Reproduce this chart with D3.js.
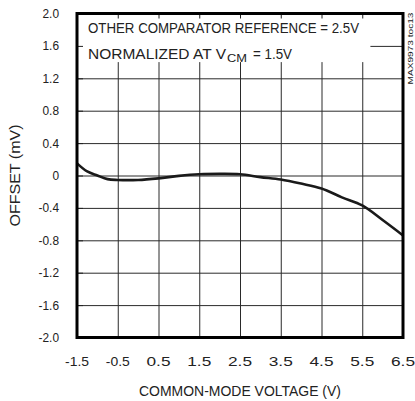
<!DOCTYPE html>
<html>
<head>
<meta charset="utf-8">
<script src="https://cdn.jsdelivr.net/npm/d3@7"></script>
<style>
  body { margin: 0; background: #fff; }
  svg text { font-family: "Liberation Sans", Arial, sans-serif; fill: #222; }
</style>
</head>
<body>
<div id="chart-area"></div>
<script>
// offset vs common-mode voltage
var voltage = [-1.5, -1.25, -1.0, -0.75, -0.5, 0, 0.5, 1.0, 1.5, 2.0, 2.5, 3.0, 3.5, 4.0, 4.5, 5.0, 5.5, 6.0, 6.5];
var offset  = [0.15, 0.05, 0.0, -0.045, -0.055, -0.055, -0.035, -0.005, 0.015, 0.02, 0.015, -0.02, -0.05, -0.10, -0.16, -0.27, -0.37, -0.55, -0.74];
var xTicks = [-1.5, -0.5, 0.5, 1.5, 2.5, 3.5, 4.5, 5.5, 6.5];
var yTicks = [2.0, 1.6, 1.2, 0.8, 0.4, 0, -0.4, -0.8, -1.2, -1.6, -2.0];

var margin = {left: 77, right: 12, top: 13.5, bottom: 63.5};
var width  = 415 - margin.left - margin.right;
var height = 401 - margin.top - margin.bottom;

var svg = d3.select("#chart-area")
    .append("svg")
        .attr("width", 415)
        .attr("height", 401);

var g = svg.append("g")
    .attr("transform", "translate(" + margin.left + ", " + margin.top + ")");

var x = d3.scaleLinear().domain([-1.5, 6.5]).range([0, width]);
var y = d3.scaleLinear().domain([-2, 2]).range([height, 0]);

// grid
g.append("g")
    .call(d3.axisBottom(x).tickValues(xTicks).tickSize(height).tickFormat(""))
    .call(function(s){ s.select(".domain").remove(); })
    .selectAll("line").attr("stroke", "#2a2a2a").attr("stroke-width", 1);

g.append("g")
    .call(d3.axisLeft(y).tickValues(yTicks).tickSize(-width).tickFormat(""))
    .call(function(s){ s.select(".domain").remove(); })
    .selectAll("line").attr("stroke", "#2a2a2a").attr("stroke-width", 1);

// white box behind the notes
g.append("rect")
    .attr("x", 0)
    .attr("y", 0)
    .attr("width", x(5.7))
    .attr("height", y(1.4))
    .attr("fill", "#fff");

// small inner ticks
g.append("g")
    .call(d3.axisTop(x).tickValues(xTicks).tickSize(-5).tickFormat(""))
    .call(function(s){ s.select(".domain").remove(); })
    .selectAll("line").attr("stroke", "#222");
g.append("g")
    .call(d3.axisLeft(y).tickValues(yTicks).tickSize(-6).tickFormat(""))
    .call(function(s){ s.select(".domain").remove(); })
    .selectAll("line").attr("stroke", "#222");

// notes (condensed look via textLength)
g.append("text")
    .attr("x", 11)
    .attr("y", 19)
    .attr("font-size", "15px")
    .attr("textLength", 271)
    .attr("lengthAdjust", "spacingAndGlyphs")
    .text("OTHER COMPARATOR REFERENCE = 2.5V");

var note2 = g.append("g").attr("font-size", "15px");
note2.append("text")
    .attr("x", 11)
    .attr("y", 45)
    .attr("textLength", 138)
    .attr("lengthAdjust", "spacingAndGlyphs")
    .text("NORMALIZED AT V");
note2.append("text")
    .attr("x", 150)
    .attr("y", 48.5)
    .attr("font-size", "11.5px")
    .attr("textLength", 20)
    .attr("lengthAdjust", "spacingAndGlyphs")
    .text("CM");
note2.append("text")
    .attr("x", 176)
    .attr("y", 45)
    .attr("textLength", 39)
    .attr("lengthAdjust", "spacingAndGlyphs")
    .text("= 1.5V");

// curve
var line = d3.line()
    .x(function(d, i){ return x(voltage[i]); })
    .y(function(d){ return y(d); })
    .curve(d3.curveCatmullRom);

g.append("path")
    .datum(offset)
    .attr("d", line)
    .attr("fill", "none")
    .attr("stroke", "#1a1a1a")
    .attr("stroke-width", 2.6)
    .attr("stroke-linejoin", "round");

// frame
g.append("rect")
    .attr("width", width)
    .attr("height", height)
    .attr("fill", "none")
    .attr("stroke", "#000")
    .attr("stroke-width", 3);

// tick labels
g.selectAll(".xlab")
    .data(xTicks)
    .enter().append("text")
        .attr("class", "xlab")
        .attr("x", function(d){ return x(d); })
        .attr("y", height + 28)
        .attr("font-size", "13.5px")
        .attr("text-anchor", "middle")
        .attr("textLength", 24)
        .attr("lengthAdjust", "spacingAndGlyphs")
        .text(function(d){ return d.toFixed(1); });

g.selectAll(".ylab")
    .data(yTicks)
    .enter().append("text")
        .attr("class", "ylab")
        .attr("x", -18)
        .attr("y", function(d){ return y(d) + 4.5; })
        .attr("font-size", "13.5px")
        .attr("text-anchor", "end")
        .text(function(d){ return d === 0 ? "0" : d.toFixed(1); })
        .each(function(){
            var w = this.getComputedTextLength();
            d3.select(this).attr("textLength", w * 0.88).attr("lengthAdjust", "spacingAndGlyphs");
        });

// axis titles
g.append("text")
    .attr("x", width / 2)
    .attr("y", height + 58)
    .attr("font-size", "15px")
    .attr("text-anchor", "middle")
    .attr("textLength", 202)
    .attr("lengthAdjust", "spacingAndGlyphs")
    .text("COMMON-MODE VOLTAGE (V)");

g.append("text")
    .attr("transform", "rotate(-90)")
    .attr("x", -(height / 2))
    .attr("y", -57)
    .attr("font-size", "15px")
    .attr("text-anchor", "middle")
    .attr("textLength", 102)
    .attr("lengthAdjust", "spacingAndGlyphs")
    .text("OFFSET (mV)");

// figure id
svg.append("text")
    .attr("transform", "translate(413, 48.5) rotate(-90)")
    .attr("font-size", "8px")
    .attr("text-anchor", "middle")
    .attr("textLength", 72)
    .attr("lengthAdjust", "spacingAndGlyphs")
    .text("MAX9973 toc13");
</script>
</body>
</html>
